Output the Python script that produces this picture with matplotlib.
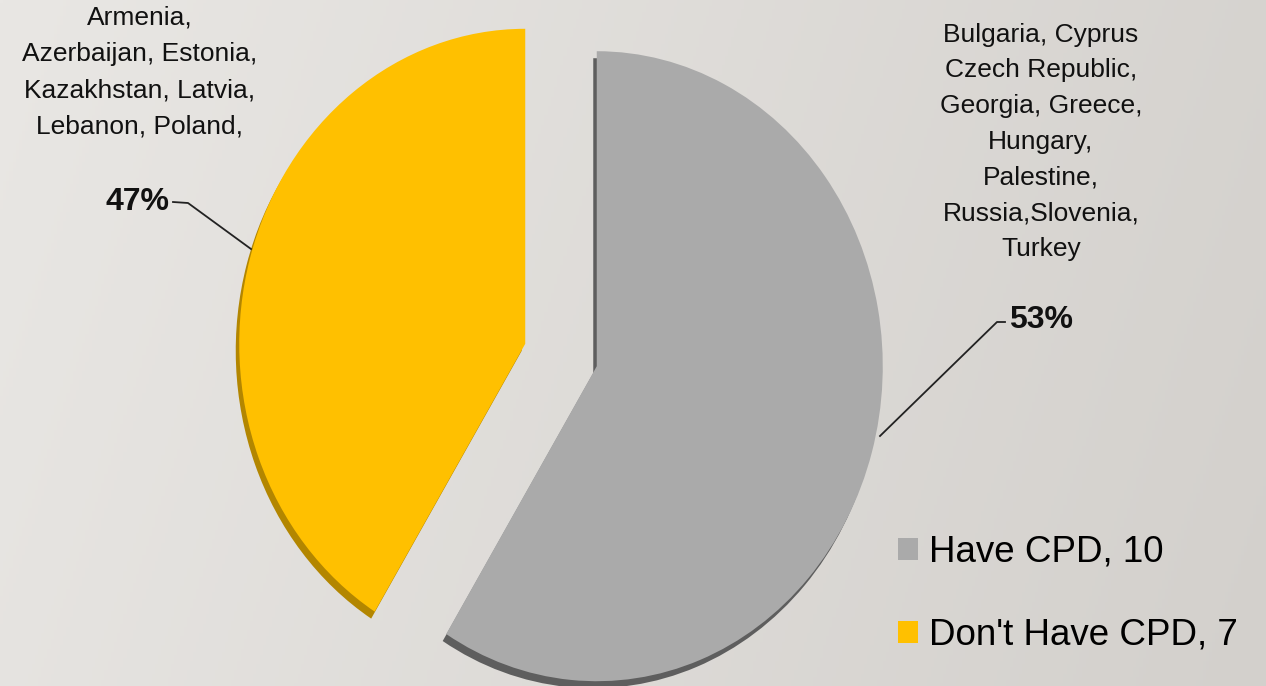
import numpy as np
import matplotlib
matplotlib.use("Agg")
import matplotlib.pyplot as plt
from matplotlib.lines import Line2D
from matplotlib.patches import Patch

# ---- data -------------------------------------------------------------
categories = ["Have CPD", "Don't Have CPD"]
counts = [10, 7]
share_labels = ["53%", "47%"]
country_lists = [
    "Bulgaria, Cyprus\nCzech Republic,\nGeorgia, Greece,\nHungary,\nPalestine,\nRussia,Slovenia,\nTurkey",
    "Armenia,\nAzerbaijan, Estonia,\nKazakhstan, Latvia,\nLebanon, Poland,",
]

# ---- style ------------------------------------------------------------
slice_colors = ["#aaaaaa", "#ffc000"]
side_colors = ["#5e5e5e", "#b38600"]
FONT = ["Liberation Sans", "DejaVu Sans"]

W, H = 1266, 686
RX, RY = 286.0, 315.0      # horizontal / vertical pie radius in pixels
CX, CY = 561.0, 355.0      # pie centre in pixels (from top-left)
EXPLODE = [0.13, 0.13]

fig = plt.figure(figsize=(W / 100, H / 100), dpi=100)


def fx(x):
    return x / W


def fy(y):
    return 1 - y / H


# soft grey backdrop, lighter towards the left
bg = fig.add_axes([0, 0, 1, 1], zorder=0)
xs = np.linspace(0, 1, 400)
ys = np.linspace(0, 1, 220)
X, Y = np.meshgrid(xs, ys)
t = np.clip(0.85 * X + 0.15 * Y, 0, 1)
light = np.array([233, 231, 228]) / 255
dark = np.array([211, 208, 204]) / 255
img = light[None, None, :] * (1 - t[..., None]) + dark[None, None, :] * t[..., None]
bg.imshow(img, aspect="auto", extent=[0, 1, 0, 1], origin="upper")
bg.axis("off")

# pie drawn in an axes whose x and y units differ -> tall ellipse
ax = fig.add_axes([0, 0, 1, 1], zorder=1)
ax.patch.set_visible(False)

# darker copy slightly below/left gives the slices some thickness
ax.pie(counts, colors=side_colors, startangle=90, counterclock=False,
       explode=EXPLODE, center=((CX - 3.5) / RX, -(CY + 7) / RY), radius=1,
       wedgeprops=dict(linewidth=0))
ax.pie(counts, colors=slice_colors, startangle=90, counterclock=False,
       explode=EXPLODE, center=(CX / RX, -CY / RY), radius=1,
       wedgeprops=dict(linewidth=0))
ax.set_xlim(0, W / RX)
ax.set_ylim(-H / RY, 0)
ax.set_aspect("auto")
ax.axis("off")

# country lists
fig.text(fx(1041), fy(142), country_lists[0], ha="center", va="center",
         fontsize=19, family=FONT, color="#111111", linespacing=1.62, zorder=3)
fig.text(fx(140), fy(72), country_lists[1], ha="center", va="center",
         fontsize=19, family=FONT, color="#111111", linespacing=1.65, zorder=3)

# percentage labels with leader lines
fig.text(fx(1041), fy(320), share_labels[0], ha="center", va="center",
         fontsize=23, fontweight="bold", family=FONT, color="#111111", zorder=3)
fig.text(fx(138), fy(202), share_labels[1], ha="center", va="center",
         fontsize=23, fontweight="bold", family=FONT, color="#111111", zorder=3)

for pts in ([(1005, 322), (997, 322), (880, 436)],
            [(173, 202), (188, 203), (251, 249)]):
    px_, py_ = zip(*pts)
    fig.add_artist(Line2D([fx(p) for p in px_], [fy(p) for p in py_],
                          transform=fig.transFigure, color="#222222",
                          linewidth=1.3, zorder=3))

# legend
handles = [Patch(facecolor=c, edgecolor="none") for c in slice_colors]
labels = [f"{c}, {n}" for c, n in zip(categories, counts)]
fig.legend(handles, labels, loc="upper left",
           bbox_to_anchor=(fx(898), fy(535)), frameon=False,
           prop=dict(family=FONT, size=26.5), handlelength=0.55,
           handleheight=0.55, handletextpad=0.3, labelspacing=1.3,
           borderpad=0, borderaxespad=0)

fig.savefig("out.png", dpi=100)
